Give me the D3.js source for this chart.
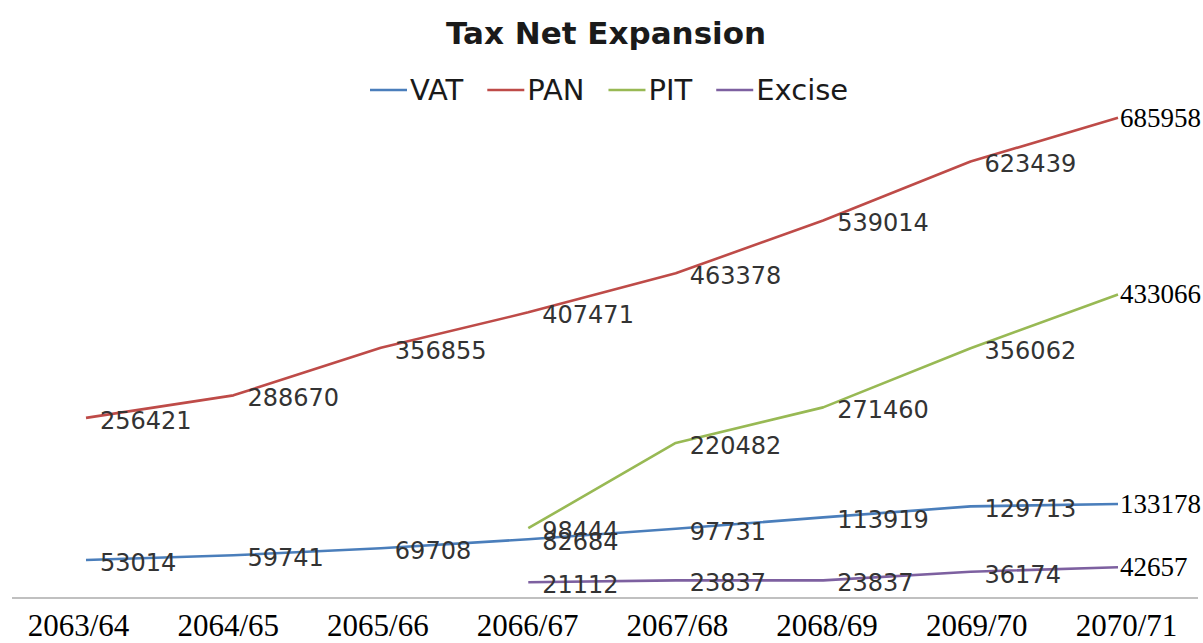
<!DOCTYPE html>
<html>
<head>
<meta charset="utf-8">
<script src="https://cdn.jsdelivr.net/npm/d3@7"></script>
<style>
  html, body { margin: 0; padding: 0; background: #fff; }
  svg { display: block; }
</style>
</head>
<body>
<svg id="chart" width="1203" height="643"></svg>
<script>
// ---- Data ----
const years = ["2063/64","2064/65","2065/66","2066/67","2067/68","2068/69","2069/70","2070/71"];
const seriesNames = ["VAT","PAN","PIT","Excise"];
const vat    = [53014, 59741, 69708, 82684, 97731, 113919, 129713, 133178];
const pan    = [256421, 288670, 356855, 407471, 463378, 539014, 623439, 685958];
const pit    = [null, null, null, 98444, 220482, 271460, 356062, 433066];
const excise = [null, null, null, 21112, 23837, 23837, 36174, 42657];
const colors = ["#4a7ebb", "#be4b48", "#98b954", "#7d60a0"];

const series = [vat, pan, pit, excise].map((vals, i) => ({
  name: seriesNames[i], color: colors[i],
  pts: vals.map((v, j) => ({ year: years[j], value: v }))
}));

const svg = d3.select("#chart");

const x = d3.scalePoint().domain(years).range([86, 1118]);
const xAxisScale = d3.scalePoint().domain(years).range([78, 1126]);
const y = d3.scaleLinear().domain([0, 700000]).range([597, 108]);

// Title
svg.append("text")
  .attr("x", 606).attr("y", 44)
  .attr("text-anchor", "middle")
  .attr("font-family", "DejaVu Sans, sans-serif")
  .attr("font-weight", "bold")
  .attr("font-size", 31)
  .attr("fill", "#1a1a1a")
  .text("Tax Net Expansion");

// Legend
const legend = svg.append("g");
let lx = 370;
series.forEach(s => {
  const g = legend.append("g");
  g.append("line").attr("x1", lx).attr("x2", lx + 37)
    .attr("y1", 90).attr("y2", 90)
    .attr("stroke", s.color).attr("stroke-width", 2.5);
  const t = g.append("text").attr("x", lx + 40).attr("y", 100)
    .attr("font-family", "DejaVu Sans, sans-serif")
    .attr("font-size", 29).attr("fill", "#1a1a1a")
    .text(s.name);
  lx += 40 + t.node().getComputedTextLength() + 24;
});

// Baseline axis line
svg.append("line")
  .attr("x1", 12).attr("x2", 1198)
  .attr("y1", 598).attr("y2", 598)
  .attr("stroke", "#c0c0c0").attr("stroke-width", 2);

// X axis labels
const xAxis = d3.axisBottom(xAxisScale).tickSize(0).tickPadding(0);
const ax = svg.append("g").attr("transform", "translate(0,598)").call(xAxis);
ax.select(".domain").remove();
ax.selectAll("text")
  .attr("dy", null).attr("y", 38)
  .attr("font-family", "Liberation Serif, Times New Roman, serif")
  .attr("font-size", 31).attr("fill", "#000");

// Lines
const line = d3.line()
  .defined(d => d.value !== null)
  .x(d => x(d.year)).y(d => y(d.value));

series.forEach(s => {
  svg.append("path")
    .datum(s.pts)
    .attr("fill", "none")
    .attr("stroke", s.color)
    .attr("stroke-width", 2.6)
    .attr("stroke-linejoin", "round")
    .attr("d", line);
});

// Data labels
const last = years[years.length - 1];
series.forEach(s => {
  const pts = s.pts.filter(d => d.value !== null);
  svg.append("g").selectAll("text")
    .data(pts).join("text")
    .attr("x", d => d.year === last ? x(d.year) + 2 : x(d.year) + 14)
    .attr("y", d => y(d.value) + (d.year === last ? 9 : 11))
    .attr("font-family", d => d.year === last ? "Liberation Serif, Times New Roman, serif" : "DejaVu Sans, sans-serif")
    .attr("font-size", d => d.year === last ? 27 : 24)
    .attr("fill", d => d.year === last ? "#000" : "#333")
    .text(d => d.value);
});
</script>
</body>
</html>
